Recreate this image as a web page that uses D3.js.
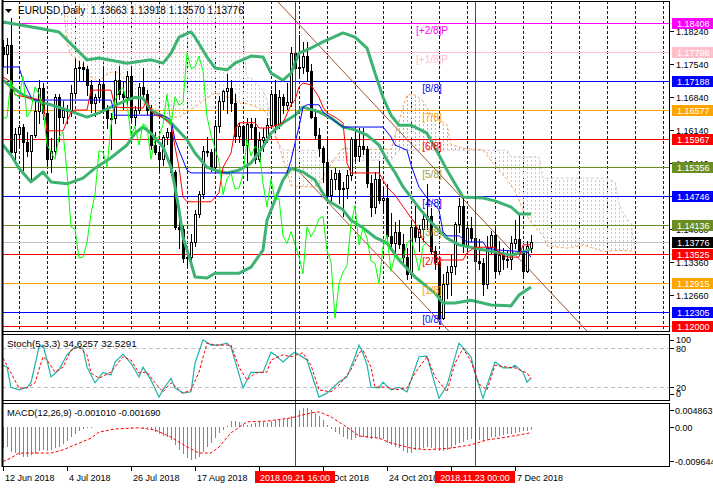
<!DOCTYPE html>
<html><head><meta charset="utf-8">
<script src="https://cdn.jsdelivr.net/npm/d3@7"></script>
<style>
html,body{margin:0;padding:0;background:#fff;}
svg{display:block;font-family:"Liberation Sans",Arial,sans-serif;}
</style></head><body>
<svg id="c" width="713" height="489"></svg>
<script>
// ---------------- DATA ----------------
const tickBars   = [0,16,32,48,64,80,96,112,128];
const tickLabels = ["12 Jun 2018","4 Jul 2018","26 Jul 2018","17 Aug 2018","10 Sep 2018","2 Oct 2018","24 Oct 2018","15 Nov 2018","7 Dec 2018"];
const markerBars   = [73,118];
const markerLabels = ["2018.09.21 16:00","2018.11.23 00:00"];

const open = [1.1790,1.1775,1.1794,1.1568,1.1607,1.1622,1.1590,1.1571,1.1605,1.1655,
1.1703,1.1650,1.1554,1.1570,1.1684,1.1643,1.1657,1.1655,1.1692,1.1746,
1.1748,1.1743,1.1710,1.1672,1.1685,1.1712,1.1660,1.1640,1.1641,1.1720,
1.1690,1.1684,1.1728,1.1642,1.1656,1.1706,1.1691,1.1658,1.1584,1.1568,
1.1553,1.1600,1.1611,1.1525,1.1410,1.1405,1.1344,1.1346,1.1377,1.1438,
1.1479,1.1571,1.1568,1.1537,1.1624,1.1677,1.1697,1.1704,1.1672,1.1602,
1.1623,1.1583,1.1628,1.1622,1.1553,1.1594,1.1601,1.1626,1.1690,1.1625,
1.1685,1.1667,1.1673,1.1778,1.1745,1.1748,1.1771,1.1739,1.1643,1.1604,
1.1576,1.1548,1.1478,1.1511,1.1524,1.1490,1.1492,1.1520,1.1596,1.1560,
1.1580,1.1575,1.1502,1.1452,1.1511,1.1467,1.1470,1.1391,1.1375,1.1400,
1.1373,1.1347,1.1311,1.1410,1.1389,1.1405,1.1427,1.1432,1.1359,1.1336,
1.1217,1.1290,1.1314,1.1328,1.1416,1.1455,1.1372,1.1408,1.1387,1.1338,
1.1333,1.1290,1.1367,1.1393,1.1316,1.1350,1.1342,1.1343,1.1375,1.1385,
1.1355,1.1317,1.13663];
const high = [1.1805,1.1810,1.1852,1.1620,1.1625,1.1628,1.1610,1.1605,1.1676,1.1720,
1.1715,1.1672,1.1598,1.1690,1.1690,1.1675,1.1667,1.1710,1.1765,1.1760,
1.1758,1.1750,1.1720,1.1690,1.1722,1.1745,1.1668,1.1650,1.1740,1.1750,
1.1718,1.1740,1.1745,1.1665,1.1715,1.1745,1.1700,1.1668,1.1610,1.1580,
1.1605,1.1620,1.1620,1.1530,1.1435,1.1412,1.1360,1.1395,1.1445,1.1485,
1.1580,1.1600,1.1575,1.1635,1.1687,1.1700,1.1733,1.1720,1.1690,1.1630,
1.1625,1.1640,1.1640,1.1640,1.1610,1.1620,1.1640,1.1700,1.1720,1.1700,
1.1690,1.1715,1.1790,1.1815,1.1815,1.1800,1.1800,1.1755,1.1660,1.1620,
1.1580,1.1595,1.1530,1.1535,1.1530,1.1505,1.1530,1.1600,1.1610,1.1620,
1.1620,1.1580,1.1520,1.1525,1.1550,1.1495,1.1500,1.1440,1.1420,1.1425,
1.1395,1.1365,1.1425,1.1455,1.1415,1.1440,1.1500,1.1450,1.1370,1.1340,
1.1310,1.1327,1.1350,1.1420,1.1470,1.1473,1.1420,1.1430,1.1395,1.1385,
1.1345,1.1390,1.1402,1.1405,1.1380,1.1365,1.1360,1.1390,1.1424,1.1440,
1.1370,1.1380,1.13918];
const low = [1.1750,1.1735,1.1562,1.1545,1.1580,1.1530,1.1560,1.1508,1.1600,1.1630,
1.1637,1.1540,1.1527,1.1560,1.1592,1.1630,1.1630,1.1645,1.1685,1.1720,
1.1720,1.1688,1.1653,1.1645,1.1674,1.1650,1.1620,1.1575,1.1630,1.1680,
1.1660,1.1665,1.1634,1.1625,1.1650,1.1680,1.1648,1.1575,1.1565,1.1530,
1.1540,1.1585,1.1520,1.1405,1.1365,1.1335,1.1330,1.1340,1.1370,1.1430,
1.1470,1.1560,1.1528,1.1530,1.1610,1.1660,1.1650,1.1655,1.1590,1.1590,
1.1570,1.1510,1.1595,1.1545,1.1550,1.1570,1.1590,1.1620,1.1610,1.1620,
1.1650,1.1660,1.1665,1.1735,1.1730,1.1735,1.1720,1.1640,1.1595,1.1560,
1.1505,1.1470,1.1465,1.1490,1.1460,1.1432,1.1470,1.1510,1.1550,1.1550,
1.1565,1.1495,1.1432,1.1440,1.1460,1.1440,1.1385,1.1365,1.1350,1.1365,
1.1335,1.1300,1.1305,1.1380,1.1360,1.1380,1.1405,1.1355,1.1320,1.1215,
1.1215,1.1260,1.1265,1.1310,1.1400,1.1357,1.1360,1.1380,1.1325,1.1320,
1.1267,1.1280,1.1355,1.1305,1.1310,1.1320,1.1325,1.1320,1.1365,1.1350,
1.1305,1.1315,1.13570];
const close = [1.1775,1.1794,1.1568,1.1607,1.1622,1.1590,1.1571,1.1605,1.1655,1.1703,
1.1650,1.1554,1.1570,1.1684,1.1643,1.1657,1.1655,1.1692,1.1746,1.1748,
1.1743,1.1710,1.1672,1.1685,1.1712,1.1660,1.1640,1.1641,1.1720,1.1690,
1.1684,1.1728,1.1642,1.1656,1.1706,1.1691,1.1658,1.1584,1.1568,1.1553,
1.1600,1.1611,1.1525,1.1410,1.1405,1.1344,1.1346,1.1377,1.1438,1.1479,
1.1571,1.1568,1.1537,1.1624,1.1677,1.1697,1.1704,1.1672,1.1602,1.1623,
1.1583,1.1628,1.1622,1.1553,1.1594,1.1601,1.1626,1.1690,1.1625,1.1685,
1.1667,1.1673,1.1778,1.1745,1.1748,1.1771,1.1739,1.1643,1.1604,1.1576,
1.1548,1.1478,1.1511,1.1524,1.1490,1.1492,1.1520,1.1596,1.1560,1.1580,
1.1575,1.1502,1.1452,1.1511,1.1467,1.1470,1.1391,1.1375,1.1400,1.1373,
1.1347,1.1311,1.1410,1.1389,1.1405,1.1427,1.1432,1.1359,1.1336,1.1217,
1.1290,1.1314,1.1328,1.1416,1.1455,1.1372,1.1408,1.1387,1.1338,1.1333,
1.1290,1.1367,1.1393,1.1316,1.1350,1.1342,1.1343,1.1375,1.1385,1.1355,
1.1317,1.1369,1.13776];
const chikouShift = 26;

const bbUpper = [[0,1.1843],[4,1.1837],[9,1.1830],[14,1.1822],[16,1.1805],[18,1.1788],[21,1.1763],[24,1.1767],[31,1.1756],[37,1.1763],[40,1.1756],[42,1.1777],[44,1.1811],[47,1.1822],[48,1.1811],[51,1.1769],[53,1.1746],[56,1.1742],[58,1.1756],[62,1.1771],[65,1.1769],[67,1.1735],[70,1.1720],[72,1.1735],[74,1.1777],[77,1.1788],[80,1.1801],[85,1.1820],[88,1.1811],[91,1.1788],[93,1.1735],[95,1.1684],[97,1.1646],[99,1.1625],[102,1.1625],[106,1.1608],[109,1.1562],[111,1.1530],[113,1.1501],[115,1.1473],[120,1.1471],[123,1.1465],[127,1.1452],[129,1.1437],[132,1.1437]];
const bbMiddle = [[0,1.1720],[2,1.1706],[5,1.1689],[8,1.1678],[10,1.1672],[12,1.1668],[16,1.1657],[18,1.1651],[21,1.1642],[24,1.1651],[27,1.1663],[31,1.1678],[33,1.1684],[35,1.1682],[37,1.1657],[40,1.1642],[42,1.1630],[46,1.1594],[48,1.1566],[51,1.1536],[53,1.1530],[56,1.1524],[59,1.1530],[62,1.1545],[65,1.1579],[67,1.1608],[70,1.1630],[73,1.1646],[75,1.1663],[79,1.1653],[82,1.1640],[85,1.1621],[88,1.1615],[91,1.1604],[94,1.1583],[96,1.1551],[98,1.1525],[100,1.1495],[104,1.1450],[107,1.1420],[111,1.1386],[114,1.1372],[118,1.1365],[123,1.1357],[127,1.1350],[130,1.1357],[132,1.1363]];
const bbLower = [[0,1.1583],[2,1.1562],[4,1.1534],[7,1.1505],[10,1.1526],[12,1.1505],[16,1.1501],[20,1.1513],[23,1.1534],[27,1.1556],[31,1.1583],[33,1.1608],[35,1.1621],[37,1.1608],[40,1.1579],[42,1.1536],[43,1.1494],[44,1.1446],[45,1.1388],[47,1.1334],[48,1.1304],[51,1.1302],[53,1.1312],[59,1.1312],[62,1.1325],[65,1.1361],[66,1.1424],[70,1.1509],[72,1.1534],[75,1.1526],[78,1.1509],[81,1.1467],[85,1.1446],[87,1.1424],[90,1.1408],[93,1.1388],[96,1.1376],[99,1.1340],[103,1.1304],[108,1.1270],[110,1.1249],[113,1.1249],[117,1.1255],[122,1.1245],[127,1.1243],[129,1.1266],[132,1.1283]];

const tenkan = [[0,1.1727],[2,1.1716],[3,1.1689],[7,1.1682],[10,1.1678],[11,1.1613],[15,1.1613],[17,1.1653],[18,1.1657],[21,1.1657],[22,1.1699],[27,1.1699],[28,1.1663],[35,1.1661],[36,1.1678],[37,1.1657],[38,1.1646],[40,1.1642],[42,1.1625],[43,1.1579],[44,1.1536],[45,1.1473],[46,1.1463],[52,1.1463],[54,1.1482],[55,1.1536],[57,1.1566],[58,1.1615],[59,1.1630],[63,1.1630],[64,1.1619],[66,1.1619],[67,1.1621],[70,1.1630],[72,1.1668],[73,1.1678],[74,1.1706],[75,1.1714],[77,1.1710],[79,1.1684],[80,1.1663],[81,1.1651],[83,1.1642],[85,1.1630],[86,1.1545],[87,1.1524],[94,1.1524],[95,1.1509],[96,1.1494],[98,1.1477],[102,1.1429],[103,1.1418],[105,1.1382],[107,1.1365],[109,1.1340],[115,1.1340],[116,1.1355],[118,1.1367],[123,1.1367],[124,1.1355],[126,1.1346],[129,1.1346],[130,1.1372],[132,1.1372]];
const kijun = [[0,1.1748],[4,1.1748],[5,1.1720],[7,1.1684],[8,1.1678],[27,1.1678],[28,1.1646],[40,1.1646],[42,1.1636],[43,1.1594],[44,1.1572],[46,1.1530],[47,1.1524],[71,1.1524],[72,1.1551],[73,1.1587],[74,1.1621],[75,1.1663],[76,1.1668],[79,1.1668],[80,1.1653],[82,1.1640],[85,1.1621],[95,1.1621],[97,1.1600],[98,1.1583],[101,1.1572],[102,1.1541],[104,1.1494],[106,1.1471],[108,1.1456],[109,1.1446],[110,1.1399],[111,1.1391],[114,1.1391],[116,1.1378],[120,1.1378],[121,1.1365],[124,1.1361],[131,1.1357],[132,1.1346]];

const cloudBar = [15,16,17,20,22,24,25,27,29,30,32,34,37,39,41,44,48,51,53,57,59,61,62,65,66,68,70,72,75,78,79,81,85,90,97,99,100,101,103,105,107,111,112,116,120,122,124,126,127,128,130,132,134,135,136,141,145,150,151,153,154,155,157,158];
const senkouA = [1.1890,1.1799,1.1773,1.1752,1.1727,1.1716,1.1727,1.1737,1.1737,1.1727,1.1689,1.1674,1.1663,1.1651,1.1642,1.1642,1.1663,1.1682,1.1693,1.1682,1.1672,1.1670,1.1668,1.1657,1.1650,1.1610,1.1554,1.1497,1.1495,1.1494,1.1500,1.1530,1.1577,1.1574,1.1574,1.1633,1.1663,1.1689,1.1689,1.1676,1.1648,1.1626,1.1583,1.1575,1.1573,1.1550,1.1530,1.1510,1.1497,1.1485,1.1447,1.1420,1.1400,1.1393,1.1370,1.1365,1.1372,1.1358,1.1358,1.1360,1.1360,1.1360,1.1359,1.1359];
const senkouB = [1.1950,1.1950,1.1950,1.1950,1.1950,1.1950,1.1950,1.1950,1.1950,1.1950,1.1950,1.1950,1.1950,1.1950,1.1950,1.1950,1.1950,1.1950,1.1950,1.1950,1.1900,1.1725,1.1725,1.1700,1.1678,1.1600,1.1572,1.1572,1.1572,1.1572,1.1572,1.1551,1.1551,1.1551,1.1551,1.1572,1.1572,1.1572,1.1572,1.1572,1.1572,1.1572,1.1572,1.1572,1.1572,1.1572,1.1572,1.1572,1.1558,1.1558,1.1558,1.1558,1.1558,1.1513,1.1513,1.1513,1.1513,1.1513,1.1513,1.1505,1.1460,1.1438,1.1418,1.1361];

const trendLine = [[68.25,1.1890],[145.75,1.1192]];
const channelLine = [[73,1.1536],[100,1.1293]];

const levelPrices = [1.18408,1.17798,1.17188,1.16577,1.15967,1.15356,1.14746,1.14136,1.13525,1.12915,1.12305];
const levelNames  = ["[+2/8]P","[+1/8]P","[8/8]","[7/8]","[6/8]","[5/8]","[4/8]","[3/8]","[2/8]","[1/8]","[0/8]"];
const levelColors = ["#ff00ff","#ffc0cb","#0000ff","#ffa500","#ff0000","#6b8e23","#0000ff","#6b8e23","#ff0000","#ffa500","#0000ff"];
const labelColors = ["#ff00ff","#ffc0cb","#0000ff","#ffa500","#ff0000","#9a9a40","#0000ff","#9a9a40","#ff0000","#ffa500","#0000ff"];
const extraLine = {price:1.12000, color:"#ff0000"};
const lastPrice = 1.13776;
const priceTicks = [1.18240,1.17540,1.16840,1.16140,1.15440,1.14750,1.14060,1.13360,1.12660];
const priceTickLabels = ["1.18240","1.17540","1.16840","1.16140","1.15440","1.14750","1.14060","1.13360","1.12660"];

const stochMain = [[0,54],[1,51],[2,20],[4,16],[6,20],[7,27],[9,82],[10,85],[11,62],[12,36],[14,47],[16,70],[18,82],[20,80],[21,51],[23,27],[25,43],[27,39],[28,59],[30,71],[32,57],[34,36],[35,51],[37,31],[39,5],[40,16],[42,34],[43,19],[45,11],[47,13],[48,57],[50,93],[52,85],[54,85],[56,88],[57,82],[60,19],[62,43],[65,43],[67,74],[68,70],[70,59],[72,70],[73,74],[76,62],[79,5],[81,11],[84,28],[86,36],[88,67],[89,85],[90,72],[91,55],[92,20],[94,19],[95,28],[97,16],[99,20],[101,13],[104,67],[106,68],[109,3],[111,23],[114,88],[117,67],[118,42],[120,3],[121,23],[123,59],[125,50],[127,50],[128,54],[130,43],[131,28],[132,34.6257]];
const stochSignal = [[0,65],[2,42],[4,19],[6,19],[8,27],[10,67],[11,62],[13,43.5],[15,51],[17,77],[19,82],[21,70],[22,42],[24,34],[27,43.5],[30,67],[32,62],[34,42],[36,43.5],[38,27],[40,13],[42,27],[45,11],[47,16],[49,43.5],[51,88],[53,85],[57,85],[59,51],[61,31],[63,42],[66,43.5],[67,62],[70,70],[72,67],[75,73],[77,54],[79,16],[82,13],[84,23.5],[87,47],[89,73],[90,77],[92,51],[93,20.5],[96,20.5],[98,16],[101,19],[103,42],[106,67],[108,36],[111,13],[113,57],[115,80],[117,60],[119,25],[121,16],[123,54],[126,51],[128,50],[131,42],[132,32.5291]];
const stochLevels = [80,20];
const stochTickValues = [100,80,20,0];

const macdHist = [-0.0061,-0.0056,-0.0070,-0.0075,-0.0079,-0.0084,-0.0084,-0.0079,-0.0077,-0.0067,-0.0065,-0.0067,-0.0065,-0.0061,-0.0056,-0.0048,-0.0039,-0.0030,-0.0020,-0.0011,-0.0005,-0.0003,
-0.0003,-0.0002,-0.0002,-0.0001,-0.0001,-0.0002,-0.0001,-0.0001,-0.0002,-0.0002,-0.0003,-0.0002,-0.0002,-0.0003,-0.0004,
-0.0009,-0.0014,-0.0020,-0.0026,-0.0030,-0.0037,-0.0051,-0.0065,-0.0077,-0.0087,-0.0094,-0.0092,-0.0084,-0.0070,-0.0058,-0.0045,-0.0033,-0.0018,-0.0009,0.0001,
0.0017,0.0017,0.0014,0.0009,0.0004,0.0007,0.0011,0.0013,0.0013,0.0012,0.0017,0.0019,0.0019,0.0021,0.0024,0.0031,0.0040,0.0047,0.0052,0.0053,
0.0047,0.0040,0.0031,0.0019,0.0004,-0.0007,-0.0014,-0.0020,-0.0030,-0.0035,-0.0037,-0.0033,-0.0028,-0.0030,-0.0033,-0.0035,-0.0033,-0.0034,-0.0035,-0.0047,
-0.0051,-0.0056,-0.0061,-0.0067,-0.0075,-0.0073,-0.0065,-0.0062,-0.0061,-0.0058,-0.0061,-0.0064,-0.0067,-0.0067,-0.0065,-0.0061,-0.0051,-0.0047,-0.0042,-0.0037,
-0.0035,-0.0040,-0.0037,-0.0040,-0.0035,-0.0030,-0.0028,-0.0026,-0.0023,-0.0020,-0.0019,-0.0017,-0.0014,-0.0012,-0.0011,-0.00101];
const macdSignal = [[0,-0.0098],[2,-0.0088],[4,-0.0074],[8,-0.0074],[12,-0.0074],[15,-0.0065],[18,-0.0051],[22,-0.0032],[24,-0.0015],[28,-0.0006],[34,-0.0003],[38,-0.0009],[42,-0.0029],[46,-0.0057],[49,-0.0074],[52,-0.0074],[54,-0.0057],[57,-0.0017],[61,0.0014],[66,0.0016],[72,0.0025],[77,0.0039],[79,0.0042],[82,0.0028],[86,-0.0001],[89,-0.0026],[94,-0.0032],[97,-0.0046],[102,-0.0060],[106,-0.0065],[112,-0.0060],[117,-0.0051],[121,-0.0037],[126,-0.0029],[132,-0.00169]];
const macdTickValues = [0.004863,0,-0.009644];
const macdTickLabels = ["0.004863","0.00","-0.009644"];

const titleText = "EURUSD,Daily  1.13663 1.13918 1.13570 1.13776";
const stochTitle = "Stoch(5,3,3) 34.6257 32.5291";
const macdTitle = "MACD(12,26,9) -0.001010 -0.001690";

// ---------------- LAYOUT ----------------
const L = 2, R = 670;
const main = {top:1, bottom:332}, sto = {top:334, bottom:401}, mac = {top:403, bottom:467};
const FONT = 9;

const svg = d3.select("#c");
const x = d3.scaleLinear().domain([0, 166.75]).range([3, 670]);
const y = d3.scaleLinear().domain([1.1824, 1.1266]).range([31, 295]);
const yS = d3.scaleLinear().domain([0, 100]).range([400.3, 335.3]);
const yM = d3.scaleLinear().domain([-0.009644, 0.004863]).range([461, 409.5]);
const px = i => Math.round(x(i));

const defs = svg.append("defs");
function clip(id, p){ defs.append("clipPath").attr("id", id).append("rect").attr("x", L).attr("y", p.top).attr("width", R-L).attr("height", p.bottom-p.top); }
clip("cMain", main); clip("cSto", sto); clip("cMac", mac);
function hatch(id, color){
  const p = defs.append("pattern").attr("id", id).attr("patternUnits","userSpaceOnUse")
    .attr("x", 3).attr("y", 0).attr("width", 4).attr("height", 4);
  p.append("rect").attr("x",0).attr("y",0).attr("width",1).attr("height",2).attr("fill",color);
}
hatch("hT", "#d8bfd8"); hatch("hS", "#f4a460");

svg.append("rect").attr("width",713).attr("height",489).attr("fill","#fff");

// ---------- MAIN PANEL ----------
const gM = svg.append("g").attr("clip-path","url(#cMain)");

gM.append("g").selectAll("line").data(d3.range(4, 167, 7)).join("line")
  .attr("x1", d=>px(d)+0.5).attr("x2", d=>px(d)+0.5).attr("y1", main.top).attr("y2", main.bottom)
  .attr("stroke","#0000ff").attr("stroke-dasharray","3,2").attr("shape-rendering","crispEdges");

const cloud = cloudBar.map((b,k)=>({b, a:senkouA[k], s:senkouB[k]}));
const cloudArea = d3.area().x(d=>x(d.b)).y0(d=>y(d.a)).y1(d=>y(d.s));
const aboveB = d3.area().x(d=>x(d.b)).y0(-50).y1(d=>y(d.s));
const belowB = d3.area().x(d=>x(d.b)).y0(d=>y(d.s)).y1(400);
defs.append("clipPath").attr("id","cAbove").append("path").attr("d", aboveB(cloud));
defs.append("clipPath").attr("id","cBelow").append("path").attr("d", belowB(cloud));
gM.append("g").attr("clip-path","url(#cAbove)").append("path").attr("d", cloudArea(cloud)).attr("fill","url(#hS)");
gM.append("g").attr("clip-path","url(#cBelow)").append("path").attr("d", cloudArea(cloud)).attr("fill","url(#hT)");
const lineP = d3.line().x(d=>x(d[0])).y(d=>y(d[1]));
gM.append("path").attr("d", lineP(cloud.map(d=>[d.b,d.s]))).attr("fill","none").attr("stroke","#d8bfd8").attr("stroke-dasharray","3,2");
gM.append("path").attr("d", lineP(cloud.map(d=>[d.b,d.a]))).attr("fill","none").attr("stroke","#f4a460").attr("stroke-dasharray","3,2");

const hl = gM.append("g").attr("shape-rendering","crispEdges");
levelPrices.forEach((p,k)=>{
  const yy = Math.round(y(p))+0.5;
  hl.append("line").attr("x1",L).attr("x2",R).attr("y1",yy).attr("y2",yy).attr("stroke",levelColors[k]);
});
{
  const yy = Math.round(y(extraLine.price))+0.5;
  hl.append("line").attr("x1",L).attr("x2",R).attr("y1",yy).attr("y2",yy).attr("stroke",extraLine.color);
  const yl = Math.round(y(lastPrice))+0.5;
  hl.append("line").attr("x1",L).attr("x2",R).attr("y1",yl).attr("y2",yl).attr("stroke","#c0c0c0");
}

// trend line (ray) and its parallel channel line starting at its anchor
function ray(pts, fromBar, toBar){
  const [p1,p2] = pts;
  const slope = (p2[1]-p1[1])/(p2[0]-p1[0]);
  gM.append("line").attr("x1",x(fromBar)).attr("y1",y(p1[1]+slope*(fromBar-p1[0])))
    .attr("x2",x(toBar)).attr("y2",y(p1[1]+slope*(toBar-p1[0])))
    .attr("stroke","#a0522d").attr("stroke-width",1);
}
ray(trendLine, 60, 166);
ray(channelLine, channelLine[0][0], 166);

// candles
const gC = gM.append("g").attr("shape-rendering","crispEdges");
close.forEach((c,i)=>{
  const xi = px(i), o = open[i];
  gC.append("line").attr("x1",xi+0.5).attr("x2",xi+0.5).attr("y1",Math.round(y(high[i]))).attr("y2",Math.round(y(low[i]))+1).attr("stroke","#000");
  const t = Math.round(y(Math.max(o,c))), bt = Math.round(y(Math.min(o,c)));
  if (c >= o) {
    gC.append("rect").attr("x",xi-0.5).attr("y",t+0.5).attr("width",2).attr("height",Math.max(bt-t,1)).attr("fill","#fff").attr("stroke","#000");
  } else {
    gC.append("rect").attr("x",xi-1).attr("y",t).attr("width",3).attr("height",Math.max(bt-t+1,1)).attr("fill","#000");
  }
});

[bbUpper, bbMiddle, bbLower].forEach(s=>gM.append("path").attr("d", lineP(s)).attr("fill","none").attr("stroke","#3cb371").attr("stroke-width",3).attr("stroke-linejoin","round"));
gM.append("path").attr("d", lineP(kijun)).attr("fill","none").attr("stroke","#0000ff").attr("stroke-width",1);
gM.append("path").attr("d", lineP(tenkan)).attr("fill","none").attr("stroke","#ff0000").attr("stroke-width",1);
const chikou = close.slice(chikouShift).map((c,k)=>[k,c]);
gM.append("path").attr("d", lineP(chikou)).attr("fill","none").attr("stroke","#00ff00").attr("stroke-width",1);

levelNames.forEach((n,k)=>{
  gM.append("text").attr("x", 432).attr("y", Math.round(y(levelPrices[k]))+11)
    .attr("text-anchor","middle").attr("font-size",10).attr("fill",labelColors[k]).text(n);
});

svg.append("path").attr("d","M5,9 L12,9 L8.5,13 Z").attr("fill","#000");
svg.append("text").attr("x",18).attr("y",13.5).attr("font-size",10).attr("fill","#000").attr("xml:space","preserve").style("white-space","pre").text(titleText);

// ---------- STOCH ----------
const gS = svg.append("g").attr("clip-path","url(#cSto)");
stochLevels.forEach(v=>gS.append("line").attr("x1",L).attr("x2",R).attr("y1",Math.round(yS(v))+0.5).attr("y2",Math.round(yS(v))+0.5)
  .attr("stroke","#c0c0c0").attr("stroke-dasharray","4,3").attr("shape-rendering","crispEdges"));
const lineS = d3.line().x(d=>x(d[0])).y(d=>yS(d[1]));
gS.append("path").attr("d", lineS(stochMain)).attr("fill","none").attr("stroke","#20b2aa").attr("stroke-width",1.2);
gS.append("path").attr("d", lineS(stochSignal)).attr("fill","none").attr("stroke","#ff0000").attr("stroke-width",1).attr("stroke-dasharray","3,2");
svg.append("text").attr("x",7).attr("y",347).attr("font-size",9.8).text(stochTitle);

// ---------- MACD ----------
const gMc = svg.append("g").attr("clip-path","url(#cMac)");
gMc.append("g").attr("shape-rendering","crispEdges").selectAll("line").data(macdHist).join("line")
  .attr("x1",(d,i)=>px(i)+0.5).attr("x2",(d,i)=>px(i)+0.5)
  .attr("y1", Math.round(yM(0))).attr("y2", d=>Math.round(yM(d)))
  .attr("stroke","#20b2aa");
const lineMc = d3.line().x(d=>x(d[0])).y(d=>yM(d[1]));
gMc.append("path").attr("d", lineMc(macdSignal)).attr("fill","none").attr("stroke","#ff0000").attr("stroke-width",1).attr("stroke-dasharray","3,2");
svg.append("text").attr("x",7).attr("y",415.5).attr("font-size",9.3).text(macdTitle);

markerBars.forEach(b=>{
  svg.append("line").attr("x1",px(b)+0.5).attr("x2",px(b)+0.5).attr("y1",main.top).attr("y2",mac.bottom)
    .attr("stroke","#ff0000").attr("shape-rendering","crispEdges");
});

[main, sto, mac].forEach(p=>{
  svg.append("rect").attr("x",L+0.5).attr("y",p.top+0.5).attr("width",R-L-1).attr("height",p.bottom-p.top-1)
    .attr("fill","none").attr("stroke","#000").attr("shape-rendering","crispEdges");
});
svg.append("line").attr("x1",L+0.5).attr("x2",L+0.5).attr("y1",0).attr("y2",mac.bottom).attr("stroke","#000").attr("stroke-width",2);

// ---------- RIGHT AXES ----------
const ax = svg.append("g").attr("font-size",FONT);
priceTicks.forEach((p,k)=>{
  const yy = Math.round(y(p))+0.5;
  ax.append("line").attr("x1",R).attr("x2",R+4).attr("y1",yy).attr("y2",yy).attr("stroke","#000").attr("shape-rendering","crispEdges");
  ax.append("text").attr("x",R+6).attr("y",yy).attr("dy","0.35em").text(priceTickLabels[k]);
});
function box(p, color, label){
  const yy = Math.round(y(p));
  ax.append("rect").attr("x",R+2).attr("y",yy-5).attr("width",41).attr("height",11).attr("fill",color);
  ax.append("text").attr("x",R+7).attr("y",yy+0.5).attr("dy","0.35em").attr("fill","#fff").text(label);
}
levelPrices.forEach((p,k)=>box(p, levelColors[k], p.toFixed(5)));
box(extraLine.price, extraLine.color, extraLine.price.toFixed(5));
box(lastPrice, "#000", lastPrice.toFixed(5));

stochTickValues.forEach(v=>{
  const yy = Math.round(yS(v))+0.5;
  const ty = Math.min(Math.max(yy, sto.top+6), sto.bottom-7);
  ax.append("line").attr("x1",R).attr("x2",R+4).attr("y1",ty).attr("y2",ty).attr("stroke","#000").attr("shape-rendering","crispEdges");
  ax.append("text").attr("x",R+6).attr("y",ty).attr("dy","0.35em").text(String(v));
});
macdTickValues.forEach((v,k)=>{
  const yy = Math.round(yM(v))+0.5;
  const ty = Math.min(Math.max(yy, mac.top+7), mac.bottom-5);
  ax.append("line").attr("x1",R).attr("x2",R+4).attr("y1",ty).attr("y2",ty).attr("stroke","#000").attr("shape-rendering","crispEdges");
  ax.append("text").attr("x",R+5).attr("y",ty).attr("dy","0.35em").text(macdTickLabels[k]);
});

// ---------- TIME AXIS ----------
tickBars.forEach((b,k)=>{
  const xx = px(b)+0.5;
  ax.append("line").attr("x1",xx).attr("x2",xx).attr("y1",mac.bottom).attr("y2",mac.bottom+4).attr("stroke","#000").attr("shape-rendering","crispEdges");
  ax.append("text").attr("x",xx+1.5).attr("y",480.5).text(tickLabels[k]);
});
markerBars.forEach((b,k)=>{
  const xx = px(b);
  ax.append("rect").attr("x",xx-40).attr("y",471).attr("width",80).attr("height",12).attr("fill","#ff0000");
  ax.append("text").attr("x",xx).attr("y",480.5).attr("text-anchor","middle").attr("fill","#fff").text(markerLabels[k]);
});
</script>
</body></html>
